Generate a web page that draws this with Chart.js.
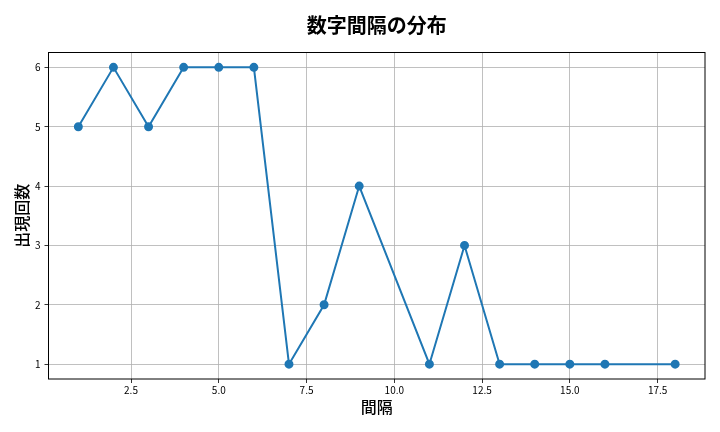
<!DOCTYPE html>
<html>
<head>
<meta charset="utf-8">
<script src="https://cdn.jsdelivr.net/npm/chart.js@4/dist/chart.umd.min.js"></script>
<style>
  html, body { margin: 0; padding: 0; background: #fff; }
  #wrap { width: 720px; height: 432px; }
</style>
</head>
<body>
<div id="wrap"><canvas id="c"></canvas></div>
<script>
const intervals = [1, 2, 3, 4, 5, 6, 7, 8, 9, 11, 12, 13, 14, 15, 16, 18];
const counts = [5, 6, 5, 6, 6, 6, 1, 2, 4, 1, 3, 1, 1, 1, 1, 1];
const xTicks = [2.5, 5.0, 7.5, 10.0, 12.5, 15.0, 17.5];
const yTicks = [1, 2, 3, 4, 5, 6];

const jp = "'Noto Sans CJK JP', 'DejaVu Sans', sans-serif";
const tickFont = { family: jp, size: 10 };

const frame = {
    id: "frame",
    afterDraw(chart) {
        const { ctx, chartArea: a } = chart;
        ctx.save();
        ctx.strokeStyle = "#000";
        ctx.lineWidth = 1;
        ctx.strokeRect(a.left, a.top, a.right - a.left, a.bottom - a.top);
        ctx.fillStyle = "#000";
        ctx.font = "bold 20px " + jp;
        ctx.textAlign = "center";
        ctx.textBaseline = "middle";
        ctx.fillText("数字間隔の分布", (a.left + a.right) / 2, 25);
        ctx.restore();
    },
};

new Chart(document.getElementById("c"), {
    type: "line",
    data: {
        datasets: [{
            data: intervals.map((x, i) => ({ x, y: counts[i] })),
            borderColor: "#1f77b4",
            backgroundColor: "#1f77b4",
            borderWidth: 2,
            pointRadius: 3.5,
            pointHoverRadius: 3.5,
            tension: 0,
        }],
    },
    options: {
        responsive: true,
        maintainAspectRatio: false,
        animation: false,
        layout: { padding: { left: 12, right: 15, top: 52.5, bottom: 15 } },
        plugins: { legend: { display: false }, tooltip: { enabled: false } },
        scales: {
            x: {
                type: "linear",
                min: 0.15,
                max: 18.85,
                afterBuildTicks: (s) => { s.ticks = xTicks.map((v) => ({ value: v })); },
                afterFit: (s) => { s.height = 38; },
                ticks: { font: tickFont, color: "#000", padding: 1, maxRotation: 0, callback: (v) => v.toFixed(1) },
                grid: { color: "#b0b0b0", lineWidth: 0.8, tickLength: 4, tickColor: "#000" },
                border: { display: false },
                title: { display: true, text: "間隔", font: { family: jp, size: 16, weight: "500" }, color: "#000", padding: 0 },
            },
            y: {
                min: 0.75,
                max: 6.25,
                afterBuildTicks: (s) => { s.ticks = yTicks.map((v) => ({ value: v })); },
                afterFit: (s) => { s.width = 36.5; },
                ticks: { font: tickFont, color: "#000", padding: 4 },
                grid: { color: "#b0b0b0", lineWidth: 0.8, tickLength: 4, tickColor: "#000" },
                border: { display: false },
                title: { display: true, text: "出現回数", font: { family: jp, size: 16, weight: "500" }, color: "#000", padding: 0 },
            },
        },
    },
    plugins: [frame],
});
</script>
</body>
</html>
